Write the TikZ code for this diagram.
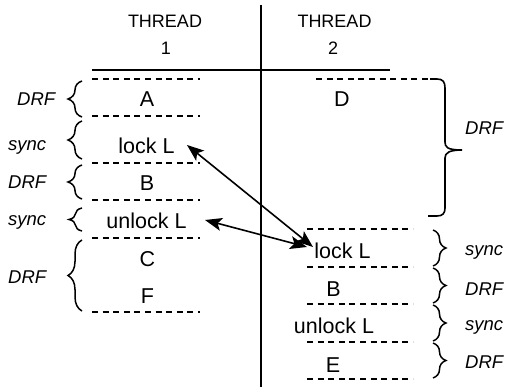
\documentclass[tikz,border=0pt]{standalone}
\usepackage{fontspec}
\setmainfont{Liberation Sans}
\usetikzlibrary{decorations.pathreplacing,arrows.meta}
\begin{document}
\begin{tikzpicture}[x=1pt,y=-1pt,
  ln/.style={line width=1.6pt},
  dsh/.style={line width=1.5pt, dash pattern=on 6pt off 4.6pt},
  blk/.style={anchor=base, font=\fontsize{21.5}{24}\selectfont, inner sep=0pt},
  hdr/.style={anchor=base, font=\fontsize{18}{20}\selectfont, inner sep=0pt},
  tag/.style={anchor=base west, font=\fontsize{18.5}{20}\selectfont\itshape, inner sep=0pt},
  brc/.style={decorate, decoration={brace, amplitude=#1}, line width=1.5pt},
  arr/.style={line width=1.6pt, {Stealth[length=17pt,width=13pt,inset=4pt]}-{Stealth[length=17pt,width=13pt,inset=4pt]}}
]
\useasboundingbox (0,0) rectangle (505,387);

% axes
\coordinate (vtop) at (261,5);
\coordinate (vbot) at (261,387);
\coordinate (hl) at (92,70);
\coordinate (hr) at (390,70);
\draw[ln] (vtop) -- (vbot);
\draw[ln] (hl) -- (hr);

% headers
\node[hdr] (t1) at (165,28) {THREAD};
\node[hdr] (n1) at (166,55) {1};
\node[hdr] (t2) at (334.5,28) {THREAD};
\node[hdr] (n2) at (333,55) {2};

% left dashed separators
\foreach \yy/\nm in {79/l0,116/l1,163/l2,200/l3,238/l4,312/l5}{
  \coordinate (\nm a) at (92,\yy);
  \coordinate (\nm b) at (200,\yy);
  \draw[dsh] (\nm a) -- (\nm b);
}
% right dashed separators
\foreach \yy/\nm in {229/r0,267/r1,304/r2,342/r3,379/r4}{
  \coordinate (\nm a) at (307,\yy);
  \coordinate (\nm b) at (413,\yy);
  \draw[dsh] (\nm a) -- (\nm b);
}
\coordinate (da) at (316,79);
\coordinate (db) at (430,79);
\draw[dsh] (da) -- (db);

% thread 1 blocks
\node[blk] (A) at (147,107) {A};
\node[blk] (lockL1) at (146.5,154) {lock L};
\node[blk] (B1) at (147,190) {B};
\node[blk] (unlockL1) at (146.5,228) {unlock L};
\node[blk] (C) at (147.5,266) {C};
\node[blk] (F) at (147.5,303) {F};

% thread 2 blocks
\node[blk] (D) at (342,107) {D};
\node[blk] (lockL2) at (342.5,258) {lock L};
\node[blk] (B2) at (333.5,296) {B};
\node[blk] (unlockL2) at (334,333) {unlock L};
\node[blk] (E) at (333,372) {E};

% left braces
\draw[brc=14pt] (82,117) -- (82,81);
\draw[brc=14pt] (82,159) -- (82,121);
\draw[brc=14pt] (82,199) -- (82,165);
\draw[brc=13pt] (82,231) -- (82,208);
\draw[brc=14pt] (82,311) -- (82,240);

% left tags
\node[tag] (g1) at (17,106) {DRF};
\node[tag] (g2) at (8,151) {sync};
\node[tag] (g3) at (8,189) {DRF};
\node[tag] (g4) at (8,225) {sync};
\node[tag] (g5) at (8,283) {DRF};

% right small braces
\draw[brc=13pt] (433,230) -- (433,266);
\draw[brc=13pt] (433,268) -- (433,303);
\draw[brc=13pt] (433,305) -- (433,341);
\draw[brc=13pt] (433,343) -- (433,378);

% big right brace
\coordinate (bt) at (430,79);
\coordinate (bb) at (428,216);
\coordinate (btip) at (462,150);
\draw[ln] (bt) -- (437,79) .. controls (443,79) and (445,82) .. (445,88)
  -- (445,142) .. controls (445,147) and (447,150) .. (btip)
  .. controls (449,150) and (445,153) .. (445,158)
  -- (445,208) .. controls (445,213) and (443,216) .. (437,216) -- (bb);

% right tags
\node[tag] (h0) at (465,135) {DRF};
\node[tag] (h1) at (465,255) {sync};
\node[tag] (h2) at (465,295) {DRF};
\node[tag] (h3) at (465,330) {sync};
\node[tag] (h4) at (465,368) {DRF};

% arrows
\coordinate (a1s) at (187,145);
\coordinate (a1e) at (313,247);
\coordinate (a2s) at (205,220);
\coordinate (a2e) at (307,247);
\draw[arr] (a1s) -- (a1e);
\draw[arr] (a2s) -- (a2e);
\end{tikzpicture}
\end{document}
